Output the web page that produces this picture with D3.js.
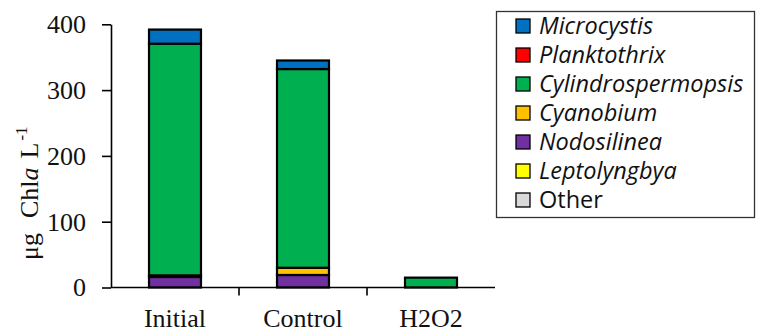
<!DOCTYPE html>
<html>
<head>
<meta charset="utf-8">
<script src="https://cdn.jsdelivr.net/npm/d3@7"></script>
<style>
  body { margin: 0; background: #fff; }
  svg { display: block; }
</style>
</head>
<body>
<div id="chart"></div>
<script>
// categories and series (bottom to top of stack)
const categories = ["Initial", "Control", "H2O2"];
const genera = ["Microcystis", "Planktothrix", "Cylindrospermopsis", "Cyanobium", "Nodosilinea", "Leptolyngbya", "Other"];
const colours = ["#0070C0", "#FF0000", "#00B050", "#FFC000", "#7030A0", "#FFFF00", "#D9D9D9"];
const italicNames = [true, true, true, true, true, true, false];

// values, ug Chla L-1
const microcystis        = [21.5, 13, 0];
const planktothrix       = [0, 0, 0];
const cylindrospermopsis = [352, 302, 15];
const cyanobium          = [2.5, 11, 0];
const nodosilinea        = [16, 19, 0];
const leptolyngbya       = [0, 0, 0];
const other              = [0, 0, 0];
const yTicks = [0, 100, 200, 300, 400];

const seriesValues = {
  "Microcystis": microcystis, "Planktothrix": planktothrix,
  "Cylindrospermopsis": cylindrospermopsis, "Cyanobium": cyanobium,
  "Nodosilinea": nodosilinea, "Leptolyngbya": leptolyngbya, "Other": other
};

const W = 758, H = 333;
const svg = d3.select("#chart").append("svg").attr("width", W).attr("height", H);

// rows for the stack
const rows = categories.map((c, i) => {
  const r = { cat: c };
  genera.forEach(g => r[g] = seriesValues[g][i]);
  return r;
});
// stack from bottom: Other, Leptolyngbya, Nodosilinea, Cyanobium, Cylindrospermopsis, Planktothrix, Microcystis
const stackOrder = genera.slice().reverse();
const stacked = d3.stack().keys(stackOrder)(rows);

const x = d3.scaleBand().domain(categories).range([111, 495]).padding(0);
const y = d3.scaleLinear().domain([0, 400]).range([287.5, 24.3]);
const colour = d3.scaleOrdinal().domain(genera).range(colours);

const barW = x.bandwidth() * 0.406;

// bars
svg.append("g").selectAll("g").data(stacked).join("g")
  .attr("fill", d => colour(d.key))
  .selectAll("rect").data(d => d.filter(p => p[1] - p[0] > 0)).join("rect")
    .attr("x", p => x(p.data.cat) + (x.bandwidth() - barW) / 2)
    .attr("y", p => y(p[1]))
    .attr("width", barW)
    .attr("height", p => y(p[0]) - y(p[1]))
    .attr("stroke", "#000")
    .attr("stroke-width", 2.2);

// y axis
const yAxis = svg.append("g")
  .attr("transform", "translate(111,0)")
  .call(d3.axisLeft(y).tickValues(yTicks).tickSize(9).tickPadding(16).tickSizeOuter(0));
yAxis.select(".domain").attr("stroke", "#000").attr("stroke-width", 1.6);
yAxis.selectAll(".tick line").attr("stroke", "#000").attr("stroke-width", 1.6);
yAxis.selectAll("text")
  .attr("font-family", "'Liberation Serif', 'Times New Roman', serif")
  .attr("font-size", 26).attr("fill", "#111");

// x axis: line with ticks between categories
const xAxis = svg.append("g").attr("transform", "translate(0," + y(0) + ")");
xAxis.append("line").attr("x1", 111).attr("x2", 495).attr("stroke", "#000").attr("stroke-width", 1.6);
xAxis.selectAll("line.sep").data(categories.slice(0, -1)).join("line")
  .attr("class", "sep")
  .attr("x1", c => x(c) + x.bandwidth()).attr("x2", c => x(c) + x.bandwidth())
  .attr("y1", 0).attr("y2", 8).attr("stroke", "#000").attr("stroke-width", 1.6);
xAxis.selectAll("text").data(categories).join("text")
  .attr("x", c => x(c) + x.bandwidth() / 2)
  .attr("y", 39)
  .attr("text-anchor", "middle")
  .attr("font-family", "'Liberation Serif', 'Times New Roman', serif")
  .attr("font-size", 26).attr("fill", "#111")
  .text(c => c);

// y axis title
const yTitle = svg.append("text")
  .attr("transform", "translate(38,260) rotate(-90)")
  .attr("font-family", "'Liberation Serif', 'Times New Roman', serif")
  .attr("font-size", 26).attr("fill", "#111");
yTitle.append("tspan").text("\u03bcg");
yTitle.append("tspan").attr("dx", 15).text("Chl");
yTitle.append("tspan").attr("font-style", "italic").text("a");
yTitle.append("tspan").attr("dx", 9).text("L");
yTitle.append("tspan").attr("font-size", 17).attr("dx", 2).attr("dy", -11).text("-1");

// legend
const legend = svg.append("g");
legend.append("rect")
  .attr("x", 496.5).attr("y", 11.5).attr("width", 258).attr("height", 206)
  .attr("fill", "none").attr("stroke", "#333").attr("stroke-width", 1.3);
const item = legend.selectAll("g.item").data(genera).join("g")
  .attr("class", "item")
  .attr("transform", (g, i) => "translate(516," + (26 + i * 29) + ")");
item.append("rect")
  .attr("x", 0).attr("y", -7).attr("width", 14).attr("height", 14)
  .attr("fill", g => colour(g)).attr("stroke", "#000").attr("stroke-width", 1.3);
item.append("text")
  .attr("x", 23).attr("dy", "0.36em")
  .attr("font-family", "'Open Sans', 'DejaVu Sans', sans-serif")
  .attr("font-size", 23.5)
  .attr("font-style", (g, i) => italicNames[i] ? "italic" : "normal")
  .attr("fill", "#111")
  .text(g => g);
</script>
</body>
</html>
